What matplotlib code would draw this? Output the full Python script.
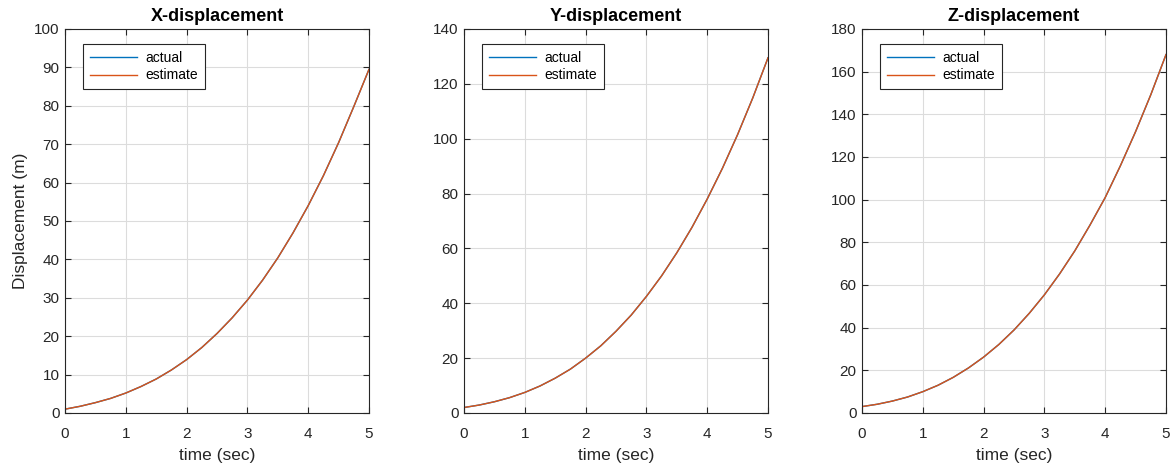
import numpy as np
import matplotlib.pyplot as plt

plt.rcParams["font.family"] = ["Liberation Sans", "DejaVu Sans"]

# time samples (sec)
t = [0.0, 0.25, 0.5, 0.75, 1.0, 1.25, 1.5, 1.75, 2.0, 2.25, 2.5,
     2.75, 3.0, 3.25, 3.5, 3.75, 4.0, 4.25, 4.5, 4.75, 5.0]

# displacement (actual == estimate)
x_disp = [1.0, 1.75, 2.7, 3.8, 5.2, 6.9, 8.85, 11.2, 13.9, 17.05, 20.7,
          24.8, 29.4, 34.6, 40.4, 46.9, 54.0, 61.8, 70.4, 79.8, 89.5]
y_disp = [2.0, 2.9, 4.1, 5.6, 7.5, 9.85, 12.7, 16.0, 20.0, 24.5, 29.8,
          35.7, 42.5, 50.0, 58.4, 67.7, 78.0, 89.2, 101.5, 114.9, 129.5]
z_disp = [3.0, 4.1, 5.6, 7.5, 10.0, 13.0, 16.7, 21.1, 26.2, 32.1, 38.9,
          46.7, 55.4, 65.2, 76.0, 88.1, 101.0, 115.9, 131.9, 149.2, 168.0]

titles = ["X-displacement", "Y-displacement", "Z-displacement"]
series = [x_disp, y_disp, z_disp]
ylims = [100, 140, 180]
ysteps = [10, 20, 20]
lefts = [65, 464, 862]

W, H = 1172, 468
fig = plt.figure(figsize=(W / 100, H / 100), dpi=100)

for i in range(3):
    ax = fig.add_axes([lefts[i] / W, (H - 413) / H, 304 / W, 384 / H])
    ax.plot(t, series[i], color="#0072BD", lw=1.0, label="actual")
    ax.plot(t, series[i], color="#D95319", lw=1.0, label="estimate")
    ax.set_xlim(0, 5)
    ax.set_ylim(0, ylims[i])
    ax.set_xticks(range(0, 6))
    ax.set_yticks(np.arange(0, ylims[i] + 1, ysteps[i]))
    ax.grid(True, color="#dcdcdc", lw=0.8)
    ax.set_axisbelow(True)
    ax.tick_params(direction="in", top=True, right=True, labelsize=11,
                   colors="#262626", length=4)
    ax.tick_params(axis="x", pad=10)
    ax.tick_params(axis="y", pad=4)
    for sp in ax.spines.values():
        sp.set_color("#262626")
        sp.set_linewidth(0.8)
    ax.set_title(titles[i], fontsize=13, fontweight="bold", pad=6)
    ax.set_xlabel("time (sec)", fontsize=12.5, color="#262626", labelpad=5)
    if i == 0:
        ax.set_ylabel("Displacement (m)", fontsize=12.5, color="#262626",
                      labelpad=4)
    leg = ax.legend(loc="upper left", bbox_to_anchor=(0.059, 0.961),
                    borderaxespad=0, fontsize=10, handlelength=3.4,
                    fancybox=False, framealpha=1, edgecolor="#262626",
                    borderpad=0.5, labelspacing=0.25, handletextpad=0.6)
    leg.get_frame().set_linewidth(0.8)

fig.savefig("out.png", dpi=100)
